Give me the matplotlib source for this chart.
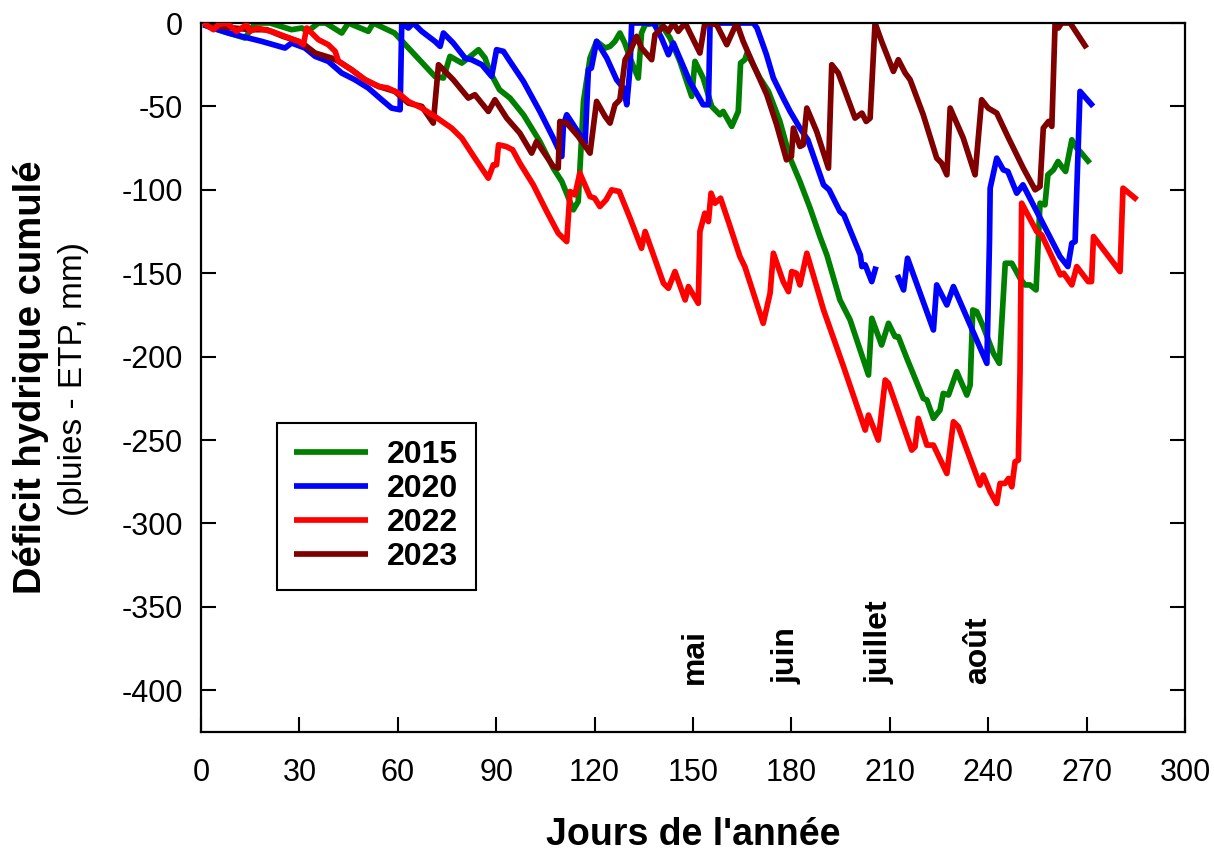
import numpy as np
import matplotlib
matplotlib.use("Agg")
import matplotlib.pyplot as plt

plt.rcParams["font.family"] = ["Liberation Sans", "DejaVu Sans"]
plt.rcParams["axes.unicode_minus"] = False

# cumulative water deficit (rain - ETP, mm) against day of year
days_2015 = [0.7, 5, 13.4, 16.5, 21, 27.6, 30.7, 32.5, 35.8, 38, 42.9, 44.9, 51, 52.5, 59, 64.2,
             71.3, 73.9, 75.9, 79.5, 81.5, 84.6, 86.6, 88, 91, 94.2, 98.3, 103.3, 107.4, 110, 113.5,
             115, 116.6, 118.6, 120.6, 123.2, 124.7, 126.2, 127.7, 129.2, 130.8, 133.3, 134.3, 135.4,
             138.9, 140, 143, 146, 149.6, 150.6, 153.1, 155.7, 158.2, 159.2, 161.8, 163.8, 164.5,
             165.8, 166.5, 170.4, 173, 176.5, 179.6, 182.6, 185.7, 188.7, 190.8, 194.8, 197.9, 203.5,
             204.5, 207.5, 209.6, 211.6, 212.6, 215.2, 220.2, 221.3, 223.3, 225.3, 226.3, 227.9,
             230.4, 233.5, 234.5, 235.3, 236.5, 238.5, 241.6, 243.4, 245.2, 247.2, 249.7, 251.2,
             252.7, 254.6, 255.8, 257.3, 258.2, 259.9, 261.3, 262.4, 263.6, 265.5, 267, 268, 271]
vals_2015 = [-1, -4, -9, 0, 0, -4, -3, -5, 0, 0, -6, 0, -5, 0, -6, -17,
             -32, -33, -20, -24, -21, -16, -21, -29, -40, -45, -55, -71, -87, -95, -112,
             -107, -47, -21, -11, -15, -14, -11, -6, -12, -21, -33, -6, -1,
             0, 0, -9, -23, -44, -23, -33, -50, -55, -53, -62, -53, -24,
             -22, -18, -33, -41, -59, -81, -95, -111, -128, -139, -166, -178, -211,
             -177, -193, -180, -188, -188, -201, -225, -226, -237, -232, -222, -223,
             -209, -223, -217, -172, -173, -182, -198, -204, -144, -144, -153, -157,
             -157, -160, -108, -109, -91, -88, -83, -86, -89, -70, -75, -77, -84]

days_2020 = [0.7, 8.3, 18.5, 25.6, 27.6, 31.7, 34.8, 38.8, 42.9, 46.9, 51, 55.1, 58.1, 60.7, 61.2,
             63.2, 64.7, 67.3, 71.3, 72.9, 73.9, 76.9, 80.5, 82.5, 85.6, 88.6, 90.1, 92.2, 94.2,
             98.3, 103.3, 107.4, 110, 110.5, 111.5, 113.5, 117.1, 118.1, 119, 120.6, 123.7, 126.7,
             128.8, 129.8, 130.8, 131.3, 135.9, 138, 140.4, 142.5, 144, 149, 153.1, 154.7, 155.2,
             163.3, 168.4, 169.5, 172.4, 174.5, 177.5, 179.6, 182.6, 185, 189.8, 191.5, 194.8,
             196, 201, 201.5, 202.5, 204.5, 205.8, 209, 212.3, 214.2, 215.4, 223.3, 224.3, 227.4,
             229.4, 239.6, 240.4, 240.6, 242.6, 244.6, 246, 248.7, 250.6, 261.9, 264.3, 265.5,
             266.5, 268, 272]
vals_2020 = [-1, -6, -11, -15, -12, -15, -20, -23, -30, -34, -39, -46, -51, -52, 0,
             -3, 0, -5, -11, -14, -6, -12, -21, -22, -25, -32, -16, -17, -23,
             -35, -53, -69, -80, -61, -55, -61, -72, -28, -27, -11, -21, -34,
             -39, -49, -27, 0, 0, 0, -9, -19, -12, -35, -49, -49, 0,
             0, 0, -3, -19, -33, -45, -53, -63, -70, -97, -100, -113,
             -115, -139, -146, -145, -155, -146, np.nan, -151, -160, -141, -184, -157, -169,
             -158, -204, -130, -99, -81, -88, -89, -102, -97, -140, -146, -132,
             -131, -41, -50]

days_2022 = [0.7, 3.8, 5.3, 7.8, 10.9, 12.4, 13.9, 14.9, 17, 21.5, 25.6, 29.7, 31.2, 32.2, 35.8,
             38.8, 40.9, 41.9, 45.9, 50, 54.1, 57, 60.2, 63.2, 67.3, 71.3, 76.4, 79.5, 83.5, 87.6,
             89.1, 90.1, 90.7, 93, 95, 97.2, 101.3, 105.4, 108.9, 111.5, 112.5, 114, 115.5, 118.6,
             120, 121.6, 123.5, 125.2, 127.5, 130.8, 134.3, 135.4, 141, 142.5, 144.5, 147.6, 148.6,
             151.6, 152.1, 153.6, 154.7, 155.5, 156.7, 158.4, 161.3, 164.3, 165.8, 171.4, 173.5,
             174.5, 177.5, 179.1, 180.1, 181.5, 182.6, 184.7, 189.8, 195.9, 202.5, 203.5, 206.5,
             208.6, 209.6, 216.7, 217.7, 218.7, 221.3, 223.3, 227.4, 229.4, 230.9, 237.5, 238.5,
             240.6, 242.6, 243.6, 245.1, 246.2, 247.2, 248.2, 249.2, 249.7, 250.2, 254.8, 256.3,
             262, 263, 265.5, 267, 270.5, 271.5, 272.1, 280.2, 281.1, 285.4]
vals_2022 = [0, -4, -1, 0, -5, -3, -1, -5, -3, -5, -8, -11, -13, -3, -10,
             -13, -17, -23, -28, -34, -38, -39, -42, -47, -51, -56, -63, -69, -81, -93,
             -85, -85, -73, -74, -76, -84, -97, -113, -126, -131, -101, -103, -90, -104,
             -105, -110, -106, -100, -101, -117, -135, -125, -156, -159, -149, -166, -158,
             -168, -125, -114, -119, -102, -108, -105, -122, -140, -146, -180, -162,
             -138, -155, -161, -149, -150, -157, -138, -172, -206, -244, -235, -250,
             -214, -216, -256, -254, -237, -253, -253, -270, -239, -242, -277, -271,
             -281, -288, -276, -276, -273, -278, -263, -262, -210, -108, -125, -127,
             -151, -150, -157, -146, -155, -155, -128, -149, -99, -106]

days_2023 = [0.7, 5, 10, 15, 20, 25, 29.7, 31.5, 34.8, 39.8, 42, 45.9, 50, 54.1, 59.1, 63.2, 67.3,
             70.8, 72.4, 76.9, 81.5, 83.5, 87.6, 89.6, 93.2, 97.2, 100.8, 102.3, 107.4, 108.9,
             109.4, 111.5, 115, 118.6, 120.6, 123.2, 124.7, 126.2, 127.7, 129.3, 130.8, 132.8,
             134.3, 137.4, 138.4, 139.5, 141, 142.5, 144, 145.5, 147.6, 149.6, 152.1, 153.6, 157.2,
             160.3, 163.3, 165.3, 168.4, 172.5, 175.5, 178.5, 180, 180.6, 182.6, 183.6, 184.7,
             187.7, 191.3, 192.3, 194.3, 197.9, 199.4, 201.5, 202.8, 204, 205.5, 207.5, 211.1,
             212.6, 214.7, 216.2, 220.2, 224.3, 225.8, 227.4, 228.4, 232.4, 236, 238, 240, 242.6,
             246.2, 250.7, 254.3, 255.8, 256.8, 258.4, 259.4, 260.4, 261.4, 262.4, 265, 270]
vals_2023 = [0, -2, -3, -4, -4, -8, -11, -13, -18, -21, -23, -28, -34, -38, -41, -48, -50,
             -60, -25, -34, -45, -43, -53, -46, -57, -66, -78, -71, -86, -87,
             -59, -60, -68, -78, -47, -56, -60, -49, -46, -22, -17, -8,
             -15, -22, -7, -5, -2, -5, 0, -5, 0, -8, -18, 0, -1,
             -13, 0, -11, -25, -43, -61, -82, -80, -63, -74, -73, -51,
             -65, -87, -25, -30, -49, -57, -54, -59, -57, 0, -11, -29,
             -22, -30, -34, -55, -81, -84, -91, -51, -69, -91, -46, -51, -54,
             -69, -87, -100, -98, -63, -59, -62, 0, -3, 0, 0, -15]

years = ["2015", "2020", "2022", "2023"]
colors = ["#008000", "#0000ff", "#ff0000", "#800000"]
zorders = [2, 2.2, 2.6, 2.4]

month_names = ["mai", "juin", "juillet", "août"]
month_days = [150.6, 178.6, 207, 237]

fig = plt.figure(figsize=(12.14, 8.52), dpi=100)
ax = fig.add_axes([0.1656, 0.1408, 0.8105, 0.8322])

series = [(days_2015, vals_2015), (days_2020, vals_2020), (days_2022, vals_2022), (days_2023, vals_2023)]
for (d, v), year, col, z in zip(series, years, colors, zorders):
    ax.plot(np.array(d, dtype=float), np.array(v, dtype=float), color=col, lw=4.1,
            label=year, zorder=z, solid_joinstyle="round", solid_capstyle="butt")

ax.set_xlim(0, 300)
ax.set_ylim(-425, 0)
ax.set_xticks(np.arange(0, 301, 30))
ax.set_yticks(np.arange(-400, 1, 50))
ax.tick_params(axis="both", direction="in", length=11, width=1.5, labelsize=22)
ax.tick_params(axis="x", pad=19)
ax.tick_params(axis="y", right=True, pad=13)
for sp in ax.spines.values():
    sp.set_linewidth(1.6)

for name, day in zip(month_names, month_days):
    ax.text(day, -396, name, rotation=90, ha="center", va="bottom",
            fontsize=23, fontweight="bold")

leg = ax.legend(loc="upper left", bbox_to_anchor=(0.077, 0.436),
                prop={"weight": "bold", "size": 23}, frameon=True, fancybox=False,
                edgecolor="black", framealpha=1, handlelength=2.3, handletextpad=0.6,
                borderpad=0.55, labelspacing=0.12, borderaxespad=0)
leg.get_frame().set_linewidth(1.5)

fig.text(31 / 1214, 1 - 377 / 852, "Déficit hydrique cumulé", rotation=90,
         ha="center", va="center", fontsize=27.5, fontweight="bold")
fig.text(74 / 1214, 1 - 379 / 852, "(pluies - ETP, mm)", rotation=90,
         ha="center", va="center", fontsize=24)
fig.text(693 / 1214, 1 - 835 / 852, "Jours de l'année", ha="center", va="center",
         fontsize=27, fontweight="bold")

fig.savefig("out.png", dpi=100)
